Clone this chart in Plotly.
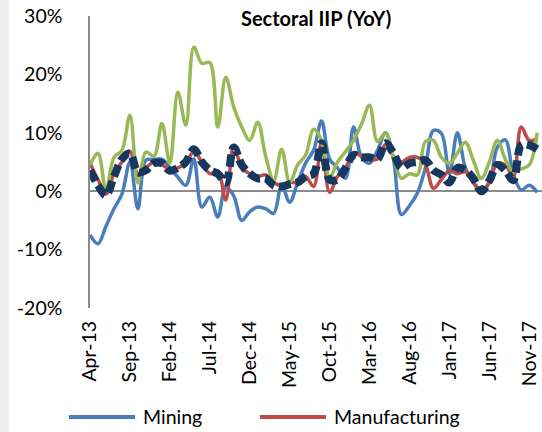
import plotly.graph_objects as go

# ---- data -------------------------------------------------------------
mon = ["Jan", "Feb", "Mar", "Apr", "May", "Jun", "Jul", "Aug", "Sep", "Oct", "Nov", "Dec"]
months = []
y, m = 2013, 3
while (y, m) <= (2017, 11):
    months.append(f"{mon[m]}-{str(y)[2:]}")
    m += 1
    if m == 12:
        m, y = 0, y + 1

mining = [-7.5, -9.0, -6.0, -3.0, -0.5, 5.0, -3.0, 5.3, 5.4, 5.5,
          4.0, 2.4, 1.0, 5.5, -2.7, -1.0, -4.4, 0.7, -0.8, -5.0,
          -3.5, -2.7, -3.0, -3.8, 1.0, -1.9, 1.5, 4.8, 7.0, 12.0,
          5.5, 4.0, 2.2, 11.0, 5.8, 4.8, 7.0, 10.0, 5.5, -4.0,
          -2.5, -0.3, 4.0, 10.4, 9.9, 3.0, 10.0, 4.0, 1.5, 0.3,
          1.5, 7.5, 8.8, 3.0, 0.2, 1.0, -0.2]

manufacturing = [4.8, 2.0, -0.5, 3.0, 5.0, 6.8, 3.0, 4.0, 5.0, 4.5,
                 3.8, 4.0, 4.8, 6.8, 5.0, 3.0, 3.5, -1.5, 7.8, 4.0,
                 3.0, 2.5, 2.8, 1.5, 1.0, 1.5, 1.5, 2.5, 0.8, 8.5,
                 -0.2, 2.5, 4.0, 6.5, 6.0, 5.5, 5.5, 8.0, 6.0, 5.0,
                 5.8, 5.8, 4.5, 0.5, 2.0, 3.5, 3.0, 3.3, 1.5, -0.2,
                 1.5, 4.8, 4.5, 2.5, 11.0, 8.7, 9.0]

electricity = [4.5, 6.5, 0.2, 5.8, 7.0, 13.0, 1.4, 6.7, 6.0, 11.6,
               4.8, 17.0, 11.3, 24.7, 21.9, 22.0, 11.0, 19.5, 14.4, 11.0,
               8.7, 11.8, 6.0, 1.8, 7.2, 1.5, 4.5, 6.2, 10.6, 8.7,
               2.4, 5.0, 6.8, 8.7, 11.5, 14.7, 8.5, 10.0, 5.8, 2.2,
               3.0, 2.8, 8.5, 8.7, 5.8, 4.8, 6.5, 8.4, 5.3, 2.2,
               5.0, 8.7, 5.5, 3.3, 3.8, 4.5, 10.0]

iip = [3.6, 1.0, -0.7, 2.5, 5.5, 6.5, 3.2, 3.6, 4.8, 4.8,
       3.5, 4.0, 5.0, 7.2, 5.0, 3.6, 3.0, 1.5, 7.5, 4.5,
       3.0, 2.2, 2.2, 1.0, 0.8, 1.2, 1.5, 2.5, 3.0, 8.2,
       2.0, 2.0, 4.0, 6.2, 5.8, 5.8, 5.5, 8.2, 6.5, 4.0,
       4.8, 5.0, 5.3, 3.6, 2.8, 1.5, 4.0, 3.6, 2.2, 0.0,
       1.8, 4.5, 3.6, 1.9, 7.9, 7.9, 7.2]

x_tick_labels = months[::5]
y_tick_vals = [-20, -10, 0, 10, 20, 30]
y_tick_text = ["-20%", "-10%", "0%", "10%", "20%", "30%"]

FONT = "Lato"

# ---- figure -----------------------------------------------------------
fig = go.Figure()
series = [
    ("Mining", mining, "#4A7EBB", 3.5, "solid"),
    ("Manufacturing", manufacturing, "#BE4B48", 3.5, "solid"),
    ("Electricity", electricity, "#98B954", 3.5, "solid"),
    ("IIP", iip, "#17375E", 8, "12px,5px"),
]
for name, vals, color, width, dash in series:
    fig.add_trace(go.Scatter(
        x=months, y=vals, name=name, mode="lines",
        line=dict(color=color, width=width, dash=dash, shape="spline", smoothing=1.0),
        showlegend=False, hoverinfo="skip",
    ))

fig.update_xaxes(
    type="category", range=[0, 56.6],
    tickmode="array", tickvals=x_tick_labels, ticktext=x_tick_labels,
    tickangle=-90, showgrid=False, showline=False, zeroline=False, ticks="",
    tickfont=dict(family=FONT, size=19.5, color="#000000"),
    ticklabelstandoff=8,
)
fig.update_yaxes(
    range=[-20, 30], tickmode="array", tickvals=y_tick_vals, ticktext=y_tick_text,
    showgrid=False, showline=True, linecolor="#8C8C8C", linewidth=1.5,
    zeroline=True, zerolinecolor="#8C8C8C", zerolinewidth=1.5, ticks="",
    tickfont=dict(family=FONT, size=19.5, color="#000000"),
    ticklabelstandoff=22,
)

def px_x(p):
    return (p - 90) / 452.0

def px_y(p):
    return (308 - p) / 292.0

shapes = [
    dict(type="rect", xref="paper", yref="paper", x0=px_x(0), x1=px_x(9),
         y0=px_y(432), y1=px_y(0), fillcolor="#EFEFEF", line=dict(width=0), layer="below"),
    dict(type="line", xref="paper", yref="paper", x0=px_x(69), x1=px_x(135),
         y0=px_y(417), y1=px_y(417), line=dict(color="#4A7EBB", width=4)),
    dict(type="line", xref="paper", yref="paper", x0=px_x(260), x1=px_x(326),
         y0=px_y(417), y1=px_y(417), line=dict(color="#BE4B48", width=4)),
]
annotations = [
    dict(text="<b>Sectoral IIP (YoY)</b>", xref="paper", yref="paper", x=0.5, y=px_y(18),
         xanchor="center", yanchor="middle", showarrow=False,
         font=dict(family=FONT, size=20, color="#000000")),
    dict(text="Mining", xref="paper", yref="paper", x=px_x(141), y=px_y(416),
         xanchor="left", yanchor="middle", showarrow=False,
         font=dict(family=FONT, size=19.5, color="#000000")),
    dict(text="Manufacturing", xref="paper", yref="paper", x=px_x(332), y=px_y(416),
         xanchor="left", yanchor="middle", showarrow=False,
         font=dict(family=FONT, size=19.5, color="#000000")),
]

fig.update_layout(
    width=542, height=432,
    margin=dict(l=90, r=0, t=16, b=124),
    plot_bgcolor="#FFFFFF", paper_bgcolor="#FFFFFF",
    showlegend=False, shapes=shapes, annotations=annotations,
)

fig.write_html(
    "out.html",
    config={"displayModeBar": False},
    post_script="document.body.style.margin='0';document.body.style.overflow='hidden';",
)
